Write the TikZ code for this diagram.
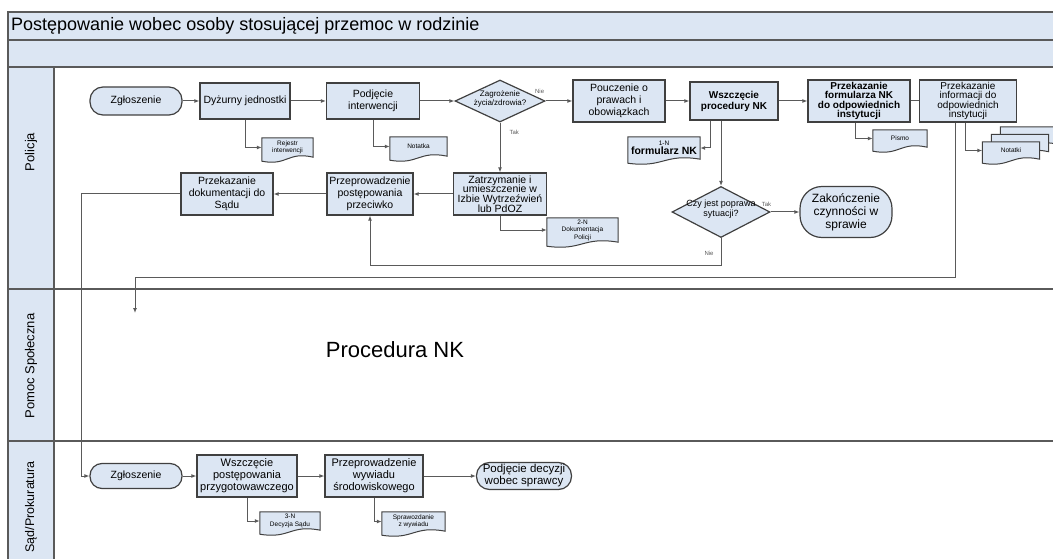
\documentclass[tikz,border=0pt]{standalone}
\usepackage{fontspec}
\setmainfont{Liberation Sans}
\usetikzlibrary{arrows.meta,shapes.geometric,backgrounds}

\definecolor{lanefill}{RGB}{220,230,243}
\definecolor{boxline}{RGB}{64,64,64}
\definecolor{flowline}{RGB}{90,90,90}

\newcommand{\fs}[2]{\fontsize{#1}{#2}\selectfont}
\newcommand{\dtext}[1]{\smash{\makebox[0pt]{\begin{tabular}{@{}c@{}}#1\end{tabular}}}}

\begin{document}
\begin{tikzpicture}[x=1pt, y=-1pt,
    box/.style={draw=boxline, fill=lanefill, line width=1.2pt, align=center,
        inner sep=1pt, font=\fs{10.5}{12}},
    term/.style={box, rounded corners=13pt},
    decision/.style={box, diamond, inner sep=0pt},
    docu/.style={align=center, inner sep=0pt, font=\fs{6.5}{7.5}},
    docline/.style={draw=boxline, fill=lanefill, line width=1pt},
    flow/.style={draw=flowline, line width=1pt, -{Latex[length=5pt,width=4pt]}},
    lbl/.style={font=\fs{6}{6}, text=flowline, inner sep=1pt},
    lanebox/.style={draw=flowline, fill=lanefill, line width=1.4pt},
    laneline/.style={draw=flowline, line width=1.4pt},
    lanename/.style={rotate=90, font=\fs{13}{14}}]
    \clip (0,0) rectangle (1053,559);

    % tory
    \filldraw[lanebox] (8,12) rectangle (1060,40);
    \filldraw[lanebox] (8,40) rectangle (1060,67);
    \filldraw[lanebox] (8,67) rectangle (54,289);
    \filldraw[lanebox] (8,289) rectangle (54,441);
    \filldraw[lanebox] (8,441) rectangle (54,570);
    \draw[laneline] (54,67) -- (1060,67) (8,289) -- (1060,289) (8,441) -- (1060,441);

    \node[anchor=west, inner sep=0pt, font=\fs{18}{18}] (tytul) at (11,26) {Postępowanie wobec osoby stosującej przemoc w rodzinie};
    \node[lanename] (policja) at (31,152) {Policja};
    \node[lanename] (pomoc) at (31,366) {Pomoc Społeczna};
    \node[lanename, font=\fs{12.5}{13}] (sad) at (31,507) {Sąd/Prokuratura};
    \node[font=\fs{22}{22}] (nk) at (395,350) {Procedura NK};

    % Policja
    \node[term, minimum width=92pt, minimum height=28pt] (zg1) at (136,101) {Zgłoszenie};
    \node[box, minimum width=90pt, minimum height=36pt] (dyz) at (245,101) {Dyżurny jednostki};
    \node[box, minimum width=93pt, minimum height=36pt] (podj) at (373,101) {Podjęcie\\interwencji};
    \node[decision, minimum width=90pt, minimum height=42pt] (zag) at (500,101) {\fs{8}{9}\dtext{Zagrożenie\\życia/zdrowia?}};
    \node[box, minimum width=92pt, minimum height=42pt] (pouc) at (619,101) {Pouczenie o\\prawach i\\obowiązkach};
    \node[box, minimum width=88pt, minimum height=38pt, font=\bfseries\fs{10}{11}] (wszcz) at (734,101) {Wszczęcie\\procedury NK};
    \node[box, minimum width=102pt, minimum height=42pt, font=\bfseries\fs{10}{9.5}] (przekf) at (859,101) {Przekazanie\\formularza NK\\do odpowiednich\\instytucji};
    \node[box, minimum width=97pt, minimum height=42pt, font=\fs{10}{9.5}] (przeki) at (968,101) {Przekazanie\\informacji do\\odpowiednich\\instytucji};

    \node[box, minimum width=92pt, minimum height=42pt] (przekd) at (227,194) {Przekazanie\\dokumentacji do\\Sądu};
    \node[box, minimum width=86pt, minimum height=42pt] (przep) at (370,194) {Przeprowadzenie\\postępowania\\przeciwko};
    \node[box, minimum width=93pt, minimum height=42pt, font=\fs{10.5}{9.8}] (zatrz) at (500,194) {Zatrzymanie i\\umieszczenie w\\Izbie Wytrzeźwień\\lub PdOZ};
    \node[decision, minimum width=98pt, minimum height=51pt] (czy) at (721,212) {\fs{9}{10}\dtext{Czy jest poprawa\\sytuacji?}};
    \node[term, rounded corners=22pt, minimum width=92pt, minimum height=51pt, font=\fs{12}{13}] (zak) at (846,212) {Zakończenie\\czynności w\\sprawie};

    % dokumenty
    \node[docu, minimum width=51pt, minimum height=19pt] (rej) at (287.5,147.5) {Rejestr\\interwencji};
    \node[docu, minimum width=57pt, minimum height=19pt] (nota) at (418.5,146.5) {Notatka};
    \node[docu, minimum width=72pt, minimum height=22pt] (form) at (664,148) {1-N\\{\bfseries\fs{10.5}{11}formularz NK}};
    \node[docu, minimum width=71pt, minimum height=24pt] (dok) at (582.5,230) {2-N\\Dokumentacja\\Policji};
    \node[docu, minimum width=54pt, minimum height=17pt] (pismo) at (900,138.5) {Pismo};
    \node[docu, minimum width=57pt, minimum height=17pt] (nb2) at (1029,135.5) {};
    \node[docu, minimum width=57pt, minimum height=17pt] (nb1) at (1020,143) {};
    \node[docu, minimum width=57pt, minimum height=17pt] (notatki) at (1011,150.5) {Notatki};
    \node[docu, minimum width=60pt, minimum height=18pt] (decs) at (290,521) {3-N\\Decyzja Sądu};
    \node[docu, minimum width=63pt, minimum height=19pt] (spraw) at (413.5,521.5) {Sprawozdanie\\z wywiadu};

    % Sad/Prokuratura
    \node[term, rounded corners=12pt, minimum width=92pt, minimum height=25pt] (zg2) at (136,476) {Zgłoszenie};
    \node[box, minimum width=100pt, minimum height=42pt, font=\fs{11}{12}] (wszp) at (247,476) {Wszczęcie\\postępowania\\przygotowawczego};
    \node[box, minimum width=98pt, minimum height=42pt, font=\fs{11}{12}] (wyw) at (374,476) {Przeprowadzenie\\wywiadu\\środowiskowego};
    \node[term, minimum width=95pt, minimum height=27pt, font=\fs{11.5}{12}] (decy) at (524,476) {Podjęcie decyzji\\wobec sprawcy};

    \coordinate (ps) at (135,313);

    \begin{pgfonlayer}{background}
        \foreach \d in {nb2,nb1,notatki,rej,nota,form,dok,pismo,decs,spraw}
            \filldraw[docline] (\d.north west) -- (\d.north east) -- (\d.south east)
                .. controls ([yshift=6pt]\d.south) and ([yshift=-9pt]\d.south) .. ([yshift=-4pt]\d.south west) -- cycle;
    \end{pgfonlayer}

    % przeplyw
    \draw[flow] (zg1) -- (dyz);
    \draw[flow] (dyz) -- (podj);
    \draw[flow] (podj) -- (zag);
    \draw[flow] (zag.east) -- (pouc.west) node[lbl, pos=0, anchor=south east, yshift=6pt] {Nie};
    \draw[flow] (pouc) -- (wszcz);
    \draw[flow] (wszcz) -- (przekf);
    \draw[flow, -] (przekf.east) -- (przeki.west);
    \draw[flow] (dyz.south) |- (rej.west);
    \draw[flow] (podj.south) |- (nota.west);
    \draw[flow] (zag.south) -- node[lbl, pos=0.2, right, xshift=8pt] {Tak} (zatrz.north);
    \draw[flow] ([xshift=-24pt]wszcz.south) |- (form.east);
    \draw[flow] (czy.north |- wszcz.south) -- (czy.north);
    \draw[flow] ([xshift=-4pt]przekf.south) |- (pismo.west);
    \draw[flow] ([xshift=-3pt]przeki.south) |- (notatki.west);
    \draw[flow] (czy.east) -- (zak.west) node[lbl, pos=0, anchor=south east, xshift=2pt, yshift=4pt] {Tak};
    \draw[flow] (czy.south) -- node[lbl, left, pos=0.55, xshift=-6pt] {Nie} ++(0,27) -| (przep.south);
    \draw[flow] (zatrz) -- (przep);
    \draw[flow] (przep) -- (przekd);
    \draw[flow] (zatrz.south) |- (dok.west);
    \draw[flow] (przekd.west) -- ++(-99,0) |- (zg2.west);
    \draw[flow] ([xshift=-13pt]przeki.south) -- ++(0,155) -| (ps);

    \draw[flow] (zg2) -- (wszp);
    \draw[flow] (wszp) -- (wyw);
    \draw[flow] (wyw) -- (decy);
    \draw[flow] (wszp.south) |- (decs.west);
    \draw[flow] (wyw.south) |- (spraw.west);
\end{tikzpicture}
\end{document}
